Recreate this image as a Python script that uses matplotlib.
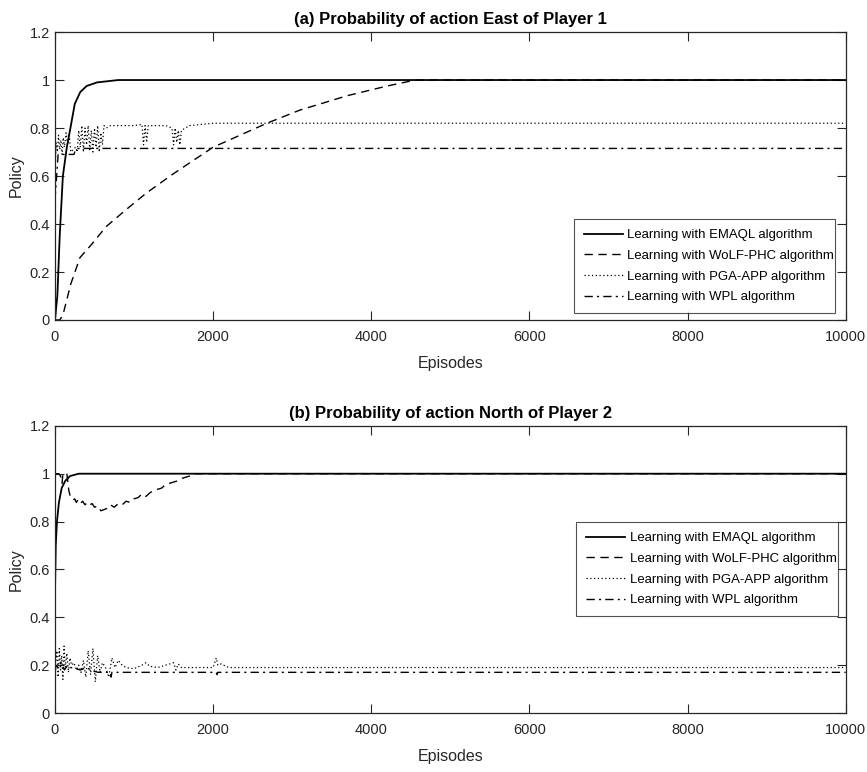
import matplotlib
matplotlib.use("Agg")
import matplotlib.pyplot as plt

plt.rcParams['font.family'] = ['Liberation Sans', 'DejaVu Sans']

# ---- panel (a): probability of action East, player 1 ----
emaql_a_ep = [0, 30, 60, 100, 150, 190, 250, 320, 400, 530, 800, 10000]
emaql_a = [0.0, 0.10, 0.35, 0.60, 0.72, 0.79, 0.90, 0.95, 0.975, 0.99, 1.0, 1.0]

wolf_a_ep = [0, 60, 100, 200, 316, 450, 650, 900, 1160, 1500, 2000, 2680, 3100,
             3700, 4200, 4560, 10000]
wolf_a = [0.0, 0.0, 0.02, 0.15, 0.26, 0.31, 0.39, 0.46, 0.53, 0.61, 0.72, 0.82,
          0.875, 0.935, 0.975, 1.0, 1.0]

pga_a_ep = [0, 15, 30, 45, 60, 75, 90, 105, 120, 140, 160, 180, 200, 230, 260,
            280, 300, 320, 340, 360, 380, 400, 420, 440, 460, 480, 500, 520,
            540, 560, 580, 600, 620, 650, 700, 1000, 1100, 1120, 1140, 1160,
            1180, 1400, 1480, 1500, 1520, 1540, 1560, 1580, 1600, 1700, 2000,
            10000]
pga_a = [0.60, 0.74, 0.70, 0.77, 0.71, 0.75, 0.69, 0.76, 0.72, 0.78, 0.73, 0.77,
         0.70, 0.71, 0.72, 0.70, 0.79, 0.72, 0.81, 0.70, 0.80, 0.73, 0.81, 0.71,
         0.79, 0.70, 0.80, 0.72, 0.81, 0.70, 0.78, 0.73, 0.81, 0.80, 0.81, 0.81,
         0.815, 0.73, 0.81, 0.74, 0.81, 0.81, 0.80, 0.73, 0.80, 0.74, 0.79, 0.73,
         0.79, 0.81, 0.82, 0.82]

wpl_a_ep = [0, 40, 240, 260, 300, 10000]
wpl_a = [0.50, 0.69, 0.69, 0.71, 0.715, 0.715]

# ---- panel (b): probability of action North, player 2 ----
emaql_b_ep = [0, 10, 25, 50, 85, 130, 190, 300, 10000]
emaql_b = [0.50, 0.70, 0.80, 0.88, 0.94, 0.97, 0.99, 1.0, 1.0]

wolf_b_ep = [0, 50, 70, 90, 100, 150, 165, 175, 190, 210, 230, 250, 270, 290,
             320, 350, 380, 410, 440, 470, 500, 540, 580, 620, 660, 700, 750,
             800, 850, 900, 950, 1000, 1050, 1100, 1150, 1200, 1250, 1300, 1350,
             1400, 1450, 1500, 1550, 1600, 1650, 1700, 1750, 10000]
wolf_b = [1.0, 1.0, 0.99, 0.96, 1.0, 1.0, 0.96, 0.93, 0.91, 0.90, 0.89, 0.895,
          0.88, 0.89, 0.875, 0.885, 0.87, 0.88, 0.87, 0.875, 0.86, 0.865, 0.845,
          0.85, 0.855, 0.87, 0.86, 0.875, 0.87, 0.885, 0.88, 0.895, 0.90, 0.915,
          0.905, 0.92, 0.93, 0.935, 0.94, 0.955, 0.96, 0.965, 0.97, 0.98, 0.985,
          0.99, 1.0, 1.0]

pga_b_ep = [0, 10, 25, 40, 55, 70, 85, 100, 115, 130, 150, 170, 190, 210, 240,
            270, 300, 330, 360, 390, 420, 450, 480, 510, 540, 570, 600, 640, 680,
            720, 760, 800, 850, 900, 1000, 1100, 1150, 1200, 1300, 1400, 1500,
            1530, 1560, 1600, 1650, 1700, 2000, 2040, 2060, 2100, 2200, 10000]
pga_b = [0.33, 0.22, 0.26, 0.15, 0.27, 0.18, 0.24, 0.14, 0.28, 0.19, 0.25, 0.17,
         0.23, 0.20, 0.21, 0.18, 0.20, 0.17, 0.22, 0.15, 0.26, 0.16, 0.27, 0.13,
         0.24, 0.17, 0.21, 0.19, 0.15, 0.23, 0.19, 0.22, 0.20, 0.19, 0.185, 0.20,
         0.21, 0.195, 0.19, 0.20, 0.21, 0.18, 0.205, 0.19, 0.19, 0.19, 0.19, 0.23,
         0.20, 0.205, 0.19, 0.19]

wpl_b_ep = [0, 10, 40, 80, 120, 160, 200, 260, 320, 400, 480, 550, 600, 700,
            710, 720, 2040, 2050, 2060, 10000]
wpl_b = [0.10, 0.20, 0.19, 0.21, 0.18, 0.20, 0.19, 0.185, 0.18, 0.19, 0.175,
         0.17, 0.17, 0.17, 0.15, 0.17, 0.17, 0.16, 0.17, 0.17]

labels = ['Learning with EMAQL algorithm', 'Learning with WoLF-PHC algorithm',
          'Learning with PGA-APP algorithm', 'Learning with WPL algorithm']
titles = ['(a) Probability of action East of Player 1',
          '(b) Probability of action North of Player 2']

x_ticks = [0, 2000, 4000, 6000, 8000, 10000]
y_ticks = [0, 0.2, 0.4, 0.6, 0.8, 1.0, 1.2]
y_ticklabels = ['0', '0.2', '0.4', '0.6', '0.8', '1', '1.2']

dark = '#262626'


def draw_panel(ax, series, title, legend_box):
    styles = [dict(ls='-', lw=1.3),
              dict(ls=(0, (6, 4)), lw=1.0),
              dict(ls=(0, (1, 2)), lw=0.9),
              dict(ls=(0, (6, 3, 1.5, 3)), lw=1.0)]
    for (ep, val), lab, st in zip(series, labels, styles):
        ax.plot(ep, val, color='black', label=lab, **st)

    ax.set_xlim(0, 10000)
    ax.set_ylim(0, 1.2)
    ax.set_xticks(x_ticks)
    ax.set_xticklabels([str(t) for t in x_ticks])
    ax.set_yticks(y_ticks)
    ax.set_yticklabels(y_ticklabels)
    ax.tick_params(direction='in', top=True, right=True, length=6.5,
                   width=0.8, colors=dark, labelsize=10.5, labelcolor=dark)
    ax.tick_params(axis='x', pad=7)
    for sp in ax.spines.values():
        sp.set_color(dark)
        sp.set_linewidth(0.9)

    ax.set_title(title, fontsize=12, fontweight='bold', pad=6)
    ax.set_xlabel('Episodes', fontsize=11.5, color=dark, labelpad=8.5)
    ax.set_ylabel('Policy', fontsize=11.5, color=dark, labelpad=4)

    leg = ax.legend(loc='lower left', bbox_to_anchor=legend_box, mode='expand',
                    fontsize=9.45, handlelength=3.0, handletextpad=0.35,
                    borderpad=0.75, labelspacing=0.64, frameon=True,
                    fancybox=False, borderaxespad=0)
    leg.get_frame().set_edgecolor(dark)
    leg.get_frame().set_linewidth(0.8)


fig = plt.figure(figsize=(8.67, 7.72), dpi=100)
ax_a = fig.add_axes([0.0634, 0.5855, 0.912, 0.373])
ax_b = fig.add_axes([0.0634, 0.0764, 0.912, 0.372])

draw_panel(ax_a, [(emaql_a_ep, emaql_a), (wolf_a_ep, wolf_a),
                  (pga_a_ep, pga_a), (wpl_a_ep, wpl_a)],
           titles[0], (0.656, 0.024, 0.33, 0.316))
draw_panel(ax_b, [(emaql_b_ep, emaql_b), (wolf_b_ep, wolf_b),
                  (pga_b_ep, pga_b), (wpl_b_ep, wpl_b)],
           titles[1], (0.659, 0.338, 0.331, 0.324))

fig.savefig('out.png', dpi=100, facecolor='white')
